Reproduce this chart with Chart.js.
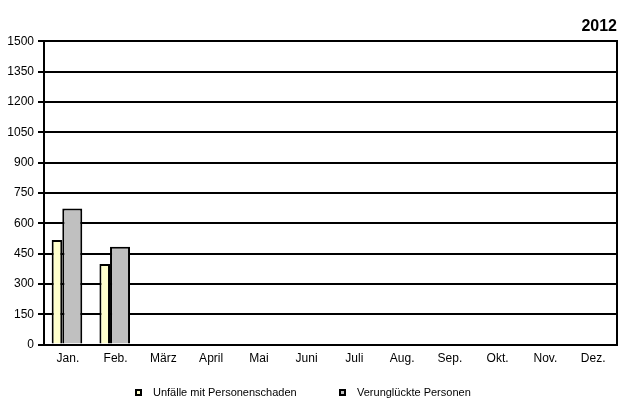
<!DOCTYPE html>
<html>
<head>
<meta charset="utf-8">
<script src="https://cdn.jsdelivr.net/npm/chart.js@4"></script>
<style>
    html, body { margin: 0; padding: 0; background: #ffffff; }
    #wrap { position: relative; width: 638px; height: 420px; }
    #legend { position: absolute; left: 0; top: 385px; width: 638px; height: 14px;
              font-family: 'Liberation Sans', Arial, sans-serif; font-size: 11px; color: #000; }
    .item { position: absolute; top: 0; height: 14px; line-height: 14px; white-space: nowrap; }
    .mark { display: inline-block; width: 3px; height: 3px; border: 2px solid #000;
            vertical-align: middle; margin-right: 11px; position: relative; top: -1px; }
</style>
</head>
<body>
<div id="wrap">
    <canvas id="unfallChart"></canvas>
    <div id="legend"></div>
</div>
<script>
const months = ['Jan.', 'Feb.', 'März', 'April', 'Mai', 'Juni', 'Juli', 'Aug.', 'Sep.', 'Okt.', 'Nov.', 'Dez.'];
const unfaelle = [517, 398, null, null, null, null, null, null, null, null, null, null];
const verunglueckte = [673, 484, null, null, null, null, null, null, null, null, null, null];
const seriesNames = ['Unfälle mit Personenschaden', 'Verunglückte Personen'];
const yearLabel = '2012';

// legend item positions (left edge of the little square)
const legendLeft = [135, 339];

const htmlLegend = {
    id: 'htmlLegend',
    afterUpdate: function (chart) {
        const box = document.getElementById('legend');
        box.innerHTML = '';
        chart.data.datasets.forEach(function (ds, i) {
            const item = document.createElement('div');
            item.className = 'item';
            item.style.left = legendLeft[i] + 'px';
            const mark = document.createElement('span');
            mark.className = 'mark';
            mark.style.background = ds.backgroundColor;
            item.appendChild(mark);
            item.appendChild(document.createTextNode(ds.label));
            box.appendChild(item);
        });
    }
};

document.addEventListener('DOMContentLoaded', function () {

    const config = {
        type: 'bar',
        data: {
            labels: months,
            datasets: [{
                label: seriesNames[0],
                data: unfaelle,
                backgroundColor: '#ffffcc',
                borderColor: '#000000',
                borderWidth: 2,
                borderSkipped: 'bottom',
                categoryPercentage: 0.913,
                barPercentage: 0.486
            }, {
                label: seriesNames[1],
                data: verunglueckte,
                backgroundColor: '#c0c0c0',
                borderColor: '#000000',
                borderWidth: 2,
                borderSkipped: 'bottom',
                categoryPercentage: 0.369,
                barPercentage: 2.27
            }]
        },
        options: {
            responsive: true,
            maintainAspectRatio: false,
            animation: false,
            layout: {
                padding: { left: 0, right: 21, top: 0, bottom: 47 }
            },
            scales: {
                x: {
                    grid: { display: false, drawTicks: false },
                    border: { display: true, color: '#000000', width: 2 },
                    ticks: {
                        color: '#000000',
                        padding: 7,
                        font: { family: 'Liberation Sans', size: 12 }
                    }
                },
                y: {
                    min: 0,
                    max: 1500,
                    afterFit: function (scale) { scale.width = 44; },
                    grid: { color: '#000000', lineWidth: 2, tickLength: 6 },
                    border: { display: true, color: '#000000', width: 2 },
                    ticks: {
                        stepSize: 150,
                        color: '#000000',
                        padding: 4,
                        font: { family: 'Liberation Sans', size: 12 },
                        callback: function (value) { return String(value); }
                    }
                },
                y2: {
                    position: 'right',
                    min: 0,
                    max: 1500,
                    afterFit: function (scale) { scale.width = 0; },
                    grid: { drawOnChartArea: false, drawTicks: false },
                    border: { display: true, color: '#000000', width: 2 },
                    ticks: { display: false }
                }
            },
            plugins: {
                title: {
                    display: true,
                    text: yearLabel,
                    align: 'end',
                    color: '#000000',
                    padding: { top: 17, bottom: 5 },
                    font: { family: 'Liberation Sans', size: 16, weight: 'bold' }
                },
                legend: { display: false },
                tooltip: { enabled: false }
            }
        },
        plugins: [htmlLegend]
    };

    const ctx = document.getElementById('unfallChart').getContext('2d');
    new Chart(ctx, config);
});
</script>
</body>
</html>
